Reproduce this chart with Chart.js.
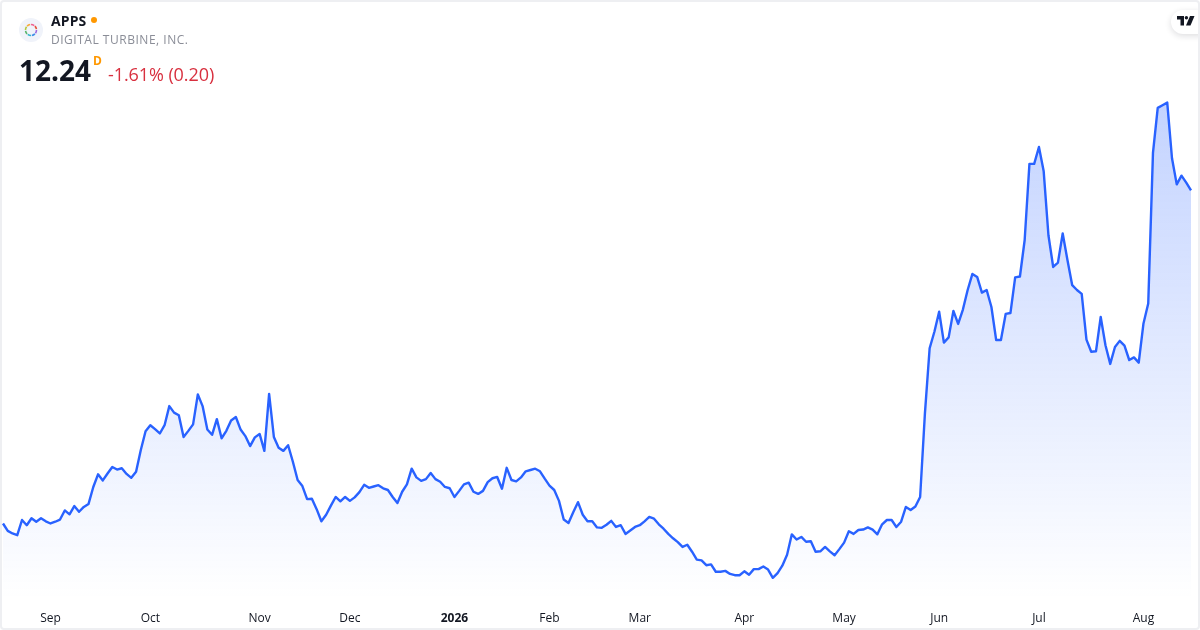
<!DOCTYPE html>
<html>
<head>
<meta charset="utf-8">
<title>APPS</title>
<script src="https://cdn.jsdelivr.net/npm/chart.js@4/dist/chart.umd.min.js"></script>
<style>
    html, body { margin: 0; padding: 0; background: #fff; }
    #wrap { position: relative; width: 1200px; height: 630px; overflow: hidden; font-family: "Open Sans", sans-serif; }
    #frame { position: absolute; left: 0; top: 0; width: 1196px; height: 626px; border: 2px solid #eeeff2; border-radius: 4px; pointer-events: none; }
    canvas { position: absolute; left: 0; top: 0; }
    .txt { position: absolute; white-space: nowrap; line-height: 1; }
    #ticker { left: 51px; top: 14px; font-size: 14px; font-weight: 700; color: #131722; letter-spacing: 0.1px; }
    #dot { position: absolute; left: 91px; top: 17px; width: 6px; height: 6px; border-radius: 50%; background: #ff9800; }
    #name { left: 51px; top: 34px; font-size: 12px; color: #8a8d97; letter-spacing: 0.52px; }
    #price { left: 19px; top: 56px; font-size: 28px; font-weight: 700; color: #131722; }
    #flag { left: 93px; top: 55px; font-size: 12px; font-weight: 700; color: #ff9800; }
    #change { left: 108px; top: 65px; font-size: 18px; color: #d8303f; letter-spacing: -0.08px; }
    #logo { position: absolute; left: 19px; top: 18px; }
    #tvbadge { position: absolute; left: 1171px; top: 10px; width: 40px; height: 24px; background: #fff; border-radius: 12px; box-shadow: 0 2px 6px rgba(19,23,34,0.14); }
    #tvlogo { position: absolute; left: 1177px; top: 16px; }
</style>
</head>
<body>
<div id="wrap">
    <canvas id="grafico" width="1200" height="630"></canvas>
    <svg id="logo" width="24" height="24" viewBox="0 0 24 24">
        <circle cx="12" cy="12" r="12" fill="#f0f3fa"/>
        <g fill="none" stroke-width="1.6" stroke-dasharray="3.4 1.1">
            <path d="M12 6.5a5.5 5.5 0 0 1 3.9 1.6" stroke="#f06292"/>
            <path d="M15.9 8.1a5.5 5.5 0 0 1 1.6 3.9" stroke="#e5533d"/>
            <path d="M17.5 12a5.5 5.5 0 0 1-1.6 3.9" stroke="#9c6ade"/>
            <path d="M15.9 15.9a5.5 5.5 0 0 1-3.9 1.6" stroke="#3f8fe8"/>
            <path d="M12 17.5a5.5 5.5 0 0 1-3.9-1.6" stroke="#36b6c9"/>
            <path d="M8.1 15.9a5.5 5.5 0 0 1-1.6-3.9" stroke="#58b56a"/>
            <path d="M6.5 12a5.5 5.5 0 0 1 1.6-3.9" stroke="#b5c93f"/>
            <path d="M8.1 8.1a5.5 5.5 0 0 1 3.9-1.6" stroke="#f7a93b"/>
        </g>
    </svg>
    <div class="txt" id="ticker">APPS</div>
    <div id="dot"></div>
    <div class="txt" id="name">DIGITAL TURBINE, INC.</div>
    <div class="txt" id="price">12.24</div>
    <div class="txt" id="flag">D</div>
    <div class="txt" id="change">-1.61% (0.20)</div>
    <div id="tvbadge"></div>
    <svg id="tvlogo" width="18" height="10" viewBox="0 0 18 10">
        <path d="M0 0h7v9.5H3.5V3.5H0z" fill="#131722"/>
        <circle cx="9.4" cy="1.8" r="1.7" fill="#131722"/>
        <path d="M13 0h4.5l-4 9.5H9z" fill="#131722"/>
    </svg>
    <div id="frame"></div>
</div>

<script>
// Fechamento diario
const precos = [
    4.58, 4.41, 4.35, 4.31, 4.66, 4.54, 4.70, 4.62, 4.70, 4.63,
    4.58, 4.62, 4.67, 4.88, 4.79, 4.98, 4.85, 4.96, 5.03, 5.42,
    5.71, 5.57, 5.73, 5.88, 5.82, 5.85, 5.72, 5.63, 5.77, 6.27,
    6.70, 6.84, 6.75, 6.65, 6.84, 7.28, 7.13, 7.07, 6.57, 6.71,
    6.86, 7.55, 7.28, 6.74, 6.62, 6.98, 6.54, 6.71, 6.95, 7.03,
    6.74, 6.59, 6.36, 6.56, 6.64, 6.25, 7.56, 6.57, 6.32, 6.25,
    6.38, 6.00, 5.58, 5.44, 5.14, 5.15, 4.91, 4.63, 4.78, 4.99,
    5.19, 5.09, 5.19, 5.10, 5.18, 5.30, 5.47, 5.40, 5.43, 5.46,
    5.39, 5.35, 5.19, 5.05, 5.31, 5.48, 5.84, 5.64, 5.56, 5.60,
    5.74, 5.60, 5.54, 5.42, 5.39, 5.19, 5.33, 5.48, 5.52, 5.31,
    5.26, 5.33, 5.53, 5.62, 5.65, 5.38, 5.86, 5.58, 5.55, 5.64,
    5.78, 5.81, 5.84, 5.78, 5.61, 5.45, 5.35, 5.10, 4.67, 4.59,
    4.84, 5.07, 4.78, 4.63, 4.63, 4.49, 4.48, 4.55, 4.64, 4.50,
    4.54, 4.34, 4.42, 4.50, 4.54, 4.63, 4.73, 4.69, 4.56, 4.46,
    4.34, 4.24, 4.15, 4.04, 4.09, 3.93, 3.75, 3.73, 3.62, 3.64,
    3.47, 3.47, 3.49, 3.42, 3.39, 3.39, 3.48, 3.40, 3.53, 3.53,
    3.59, 3.52, 3.33, 3.44, 3.61, 3.86, 4.33, 4.21, 4.27, 4.16,
    4.17, 3.93, 3.94, 4.04, 3.94, 3.85, 3.99, 4.14, 4.40, 4.34,
    4.43, 4.44, 4.49, 4.44, 4.33, 4.56, 4.66, 4.66, 4.50, 4.62,
    4.96, 4.89, 4.97, 5.19, 7.10, 8.61, 8.99, 9.45, 8.74, 8.86,
    9.47, 9.17, 9.50, 9.95, 10.32, 10.25, 9.89, 9.95, 9.56, 8.80,
    8.80, 9.40, 9.42, 10.24, 10.26, 11.10, 12.85, 12.85, 13.24, 12.68,
    11.21, 10.48, 10.58, 11.25, 10.64, 10.06, 9.95, 9.86, 8.81, 8.53,
    8.54, 9.33, 8.68, 8.25, 8.64, 8.78, 8.67, 8.34, 8.40, 8.28,
    9.18, 9.64, 13.11, 14.14, 14.20, 14.26, 12.98, 12.38, 12.58, 12.42,
    12.24
];

// Rotulos do eixo X e o pregao em que cada um cai
const rotulosMes = ['Sep', 'Oct', 'Nov', 'Dec', '2026', 'Feb', 'Mar', 'Apr', 'May', 'Jun', 'Jul', 'Aug'];
const indicesMes = [10, 31, 54, 73, 95, 115, 134, 156, 177, 197, 218, 240];

const categorias = precos.map((_, i) => {
    const pos = indicesMes.indexOf(i);
    return pos >= 0 ? rotulosMes[pos] : '';
});

function gradienteArea(context) {
    const area = context.chart.chartArea;
    if (!area) return 'rgba(41, 98, 255, 0.1)';
    const g = context.chart.ctx.createLinearGradient(0, 100, 0, area.bottom);
    g.addColorStop(0, 'rgba(41, 98, 255, 0.28)');
    g.addColorStop(1, 'rgba(41, 98, 255, 0)');
    return g;
}

new Chart(document.getElementById('grafico'), {
    type: 'line',
    data: {
        labels: categorias,
        datasets: [{
            data: precos,
            borderColor: '#2962ff',
            borderWidth: 2.4,
            backgroundColor: gradienteArea,
            fill: 'start',
            pointRadius: 0,
            tension: 0,
            borderJoinStyle: 'round'
        }]
    },
    options: {
        responsive: false,
        animation: false,
        layout: { padding: { left: 3, right: 9, top: 90, bottom: 0 } },
        plugins: { legend: { display: false }, tooltip: { enabled: false } },
        scales: {
            x: {
                offset: false,
                grid: { display: false, drawTicks: false },
                border: { display: false },
                afterFit: function(scale) {
                    scale.height = 30;
                    // sem folga lateral do rotulo, a area vai ate a margem
                    scale.paddingLeft = 0;
                    scale.paddingRight = 0;
                },
                ticks: {
                    autoSkip: false,
                    maxRotation: 0,
                    padding: 11,
                    color: '#131722',
                    font: function(ctx) {
                        const bold = ctx.tick && ctx.tick.label === '2026';
                        return { family: '"Open Sans", sans-serif', size: 12, weight: bold ? '700' : '400' };
                    }
                }
            },
            y: {
                display: false,
                min: 2.82,
                max: 14.55
            }
        }
    }
});
</script>
</body>
</html>
